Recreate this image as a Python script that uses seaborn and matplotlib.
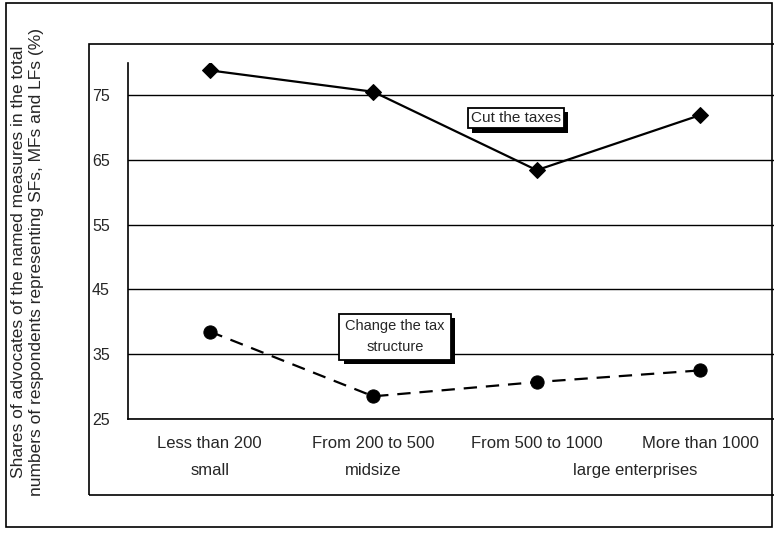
import matplotlib
matplotlib.use("Agg")
import matplotlib.pyplot as plt
import matplotlib.patheffects as pe
from matplotlib.patches import Rectangle
import seaborn as sns
import pandas as pd

categories = ["Less than 200", "From 200 to 500", "From 500 to 1000", "More than 1000"]
size_groups = ["small", "midsize", "large enterprises"]
cut_taxes = [78.8, 75.5, 63.4, 71.9]
change_structure = [38.5, 28.5, 30.7, 32.5]
y_ticks = [25, 35, 45, 55, 65, 75]

sns.set_theme(style="white")
plt.rcParams["font.family"] = ["Liberation Sans", "DejaVu Sans"]

df_cut = pd.DataFrame({"cat": categories, "val": cut_taxes})
df_chg = pd.DataFrame({"cat": categories, "val": change_structure})

fig = plt.figure(figsize=(7.74, 5.34), dpi=100)
W, H = 774, 534
ax = fig.add_axes([128 / W, 1 - 419 / H, 654 / W, (419 - 62.6) / H])

sns.lineplot(data=df_cut, x="cat", y="val", ax=ax, color="black", lw=1.6,
             marker="D", markersize=8, markeredgecolor="black", sort=False)
sns.lineplot(data=df_chg, x="cat", y="val", ax=ax, color="black", lw=1.6,
             marker="o", markersize=9.5, markeredgecolor="black", sort=False,
             linestyle=(0, (6, 4)))

ax.set_xlim(-0.5, 3.5)
ax.set_ylim(25, 80)
ax.set_yticks(y_ticks)
ax.set_yticklabels([str(t) for t in y_ticks])
for t in y_ticks:
    ax.axhline(t, color="black", lw=1.0, zorder=0)

ax.set_xticks(range(len(categories)))
ax.set_xticklabels(categories)
ax.tick_params(axis="x", length=0, pad=12, labelsize=12)
ax.set_xticks([0.5, 1.5, 2.5], minor=True)
ax.tick_params(axis="x", which="minor", length=5, width=1, color="black", direction="out")
ax.tick_params(axis="y", length=4, width=1, color="black", direction="out", pad=9, labelsize=11.5)
ax.set_xlabel("")
ax.set_ylabel("")

for s in ["top", "right"]:
    ax.spines[s].set_visible(False)
for s in ["left", "bottom"]:
    ax.spines[s].set_visible(True)
    ax.spines[s].set_color("black")
    ax.spines[s].set_linewidth(1.2)

# second line of category labels
trans = ax.get_xaxis_transform()
for xpos, lab in zip([0, 1, 2.6], size_groups):
    ax.text(xpos, -0.145, lab, transform=trans, ha="center", va="center", fontsize=12)

# annotation boxes with shadow
shadow = [pe.withSimplePatchShadow(offset=(3, -3), shadow_rgbFace="black", alpha=1.0)]
t1 = ax.text(1.873, 71.4, "Cut the taxes", ha="center", va="center", fontsize=11,
             bbox=dict(boxstyle="square,pad=0.2", fc="white", ec="black", lw=1.3), zorder=5)
t1.get_bbox_patch().set_path_effects(shadow)
t2 = ax.text(1.133, 37.7, "Change the tax\nstructure", ha="center", va="center", fontsize=10.5,
             linespacing=1.6,
             bbox=dict(boxstyle="square,pad=0.4", fc="white", ec="black", lw=1.3), zorder=5)
t2.get_bbox_patch().set_path_effects(shadow)

# y label
fig.text(27.5 / W, 1 - 262 / H,
         "Shares of advocates of the named measures in the total\n"
         "numbers of respondents representing SFs, MFs and LFs (%)",
         rotation=90, ha="center", va="center", fontsize=12.5, linespacing=1.2)

# frames
fig.patches.append(Rectangle((89 / W, 1 - 495 / H), 700 / W, (495 - 44) / H,
                             transform=fig.transFigure, fill=False, ec="black", lw=1.2))
fig.patches.append(Rectangle((6 / W, 1 - 527 / H), 766 / W, (527 - 3) / H,
                             transform=fig.transFigure, fill=False, ec="black", lw=1.2))

fig.savefig("out.png", dpi=100)
